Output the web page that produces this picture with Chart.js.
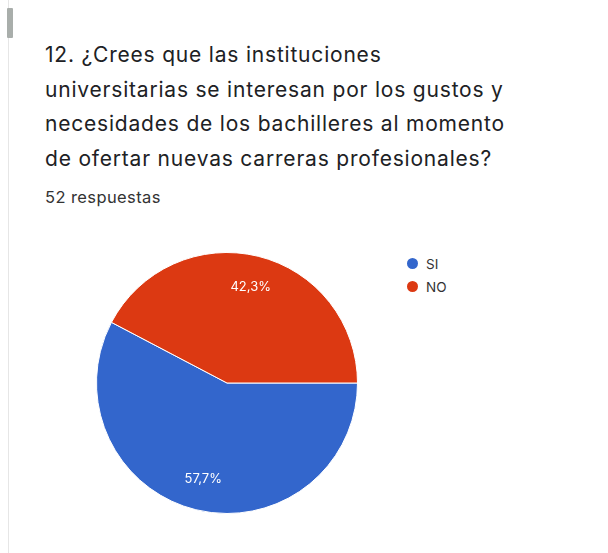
<!DOCTYPE html>
<html>
<head>
<meta charset="utf-8">
<script src="https://cdn.jsdelivr.net/npm/chart.js@4"></script>
<style>
  html, body { margin: 0; padding: 0; background: #fff; }
  body { width: 608px; height: 553px; position: relative; overflow: hidden; font-family: Inter, Roboto, sans-serif; }
  #edge { position: absolute; left: 8px; top: 0; width: 1px; height: 553px; background: #e6e6e6; }
  #grip { position: absolute; left: 7px; top: 8px; width: 6px; height: 30px; background: #a9aeab; border-radius: 1px; }
  #title { position: absolute; left: 45px; top: 38px; width: 560px; font-size: 21px; letter-spacing: 0.8px; line-height: 34.5px; color: #202124; white-space: nowrap; }
  #count { position: absolute; left: 45px; top: 187px; font-size: 16.5px; letter-spacing: 0.4px; line-height: 20px; color: #333; }
  #chartBox { position: absolute; left: 96px; top: 252px; width: 262px; height: 262px; }
  #legend { position: absolute; left: 407px; top: 252px; font-size: 13.5px; color: #333; }
  #legend div { height: 23px; display: flex; align-items: center; }
  #legend span.dot { display: inline-block; width: 11px; height: 11px; border-radius: 50%; margin-right: 8px; }
</style>
</head>
<body>
<div id="edge"></div>
<div id="grip"></div>
<div id="title">12. ¿Crees que las instituciones<br>universitarias se interesan por los gustos y<br>necesidades de los bachilleres al momento<br>de ofertar nuevas carreras profesionales?</div>
<div id="count">52 respuestas</div>
<div id="chartBox"><canvas id="chart" width="262" height="262"></canvas></div>
<div id="legend"></div>
<script>
var labels = ['SI', 'NO'];
var values = [30, 22];
var percentLabels = ['57,7%', '42,3%'];
var colors = ['#3366cc', '#dc3912'];

// legend built from the same arrays
var legend = document.getElementById('legend');
labels.forEach(function(l, i) {
    var row = document.createElement('div');
    row.innerHTML = '<span class="dot" style="background:' + colors[i] + '"></span>' + l;
    legend.appendChild(row);
});

var sliceLabels = {
    id: 'sliceLabels',
    afterDatasetsDraw: function(chart) {
        var ctx = chart.ctx;
        var meta = chart.getDatasetMeta(0);
        ctx.save();
        ctx.fillStyle = '#ffffff';
        ctx.font = '13px Inter, Roboto, sans-serif';
        ctx.textAlign = 'center';
        ctx.textBaseline = 'middle';
        meta.data.forEach(function(arc, i) {
            var p = arc.getProps(['x', 'y', 'startAngle', 'endAngle', 'outerRadius'], true);
            var mid = (p.startAngle + p.endAngle) / 2;
            var r = p.outerRadius * 0.76;
            ctx.fillText(percentLabels[i], p.x + Math.cos(mid) * r, p.y + Math.sin(mid) * r);
        });
        ctx.restore();
    }
};

var ctx = document.getElementById('chart').getContext('2d');
var newChart = new Chart(ctx, {
    type: 'pie',
    data: {
        labels: labels,
        datasets: [{
            data: values,
            backgroundColor: colors,
            borderColor: '#ffffff',
            borderWidth: 1
        }]
    },
    options: {
        responsive: false,
        animation: false,
        rotation: 90,
        layout: { padding: 0 },
        plugins: {
            legend: { display: false },
            tooltip: { enabled: false }
        }
    },
    plugins: [sliceLabels]
});
</script>
</body>
</html>
